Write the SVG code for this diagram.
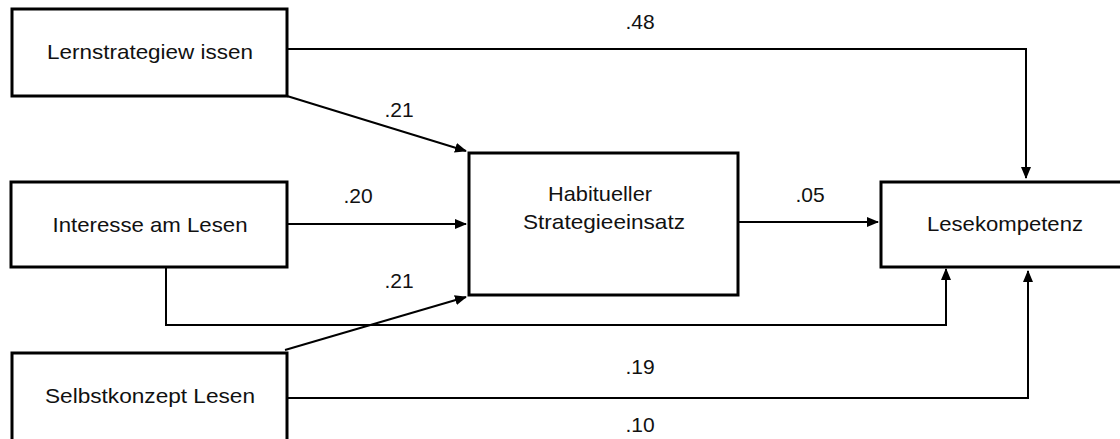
<svg xmlns="http://www.w3.org/2000/svg" width="1120" height="439" viewBox="0 0 1120 439">
<style>
.box{fill:#fff;stroke:#000;stroke-width:3}
.t{font-family:"Liberation Sans",Arial,sans-serif;font-size:21px;fill:#111;text-anchor:middle}
.c{fill:none;stroke:#000;stroke-width:2}
</style>
<defs>
<marker id="ah" markerWidth="12" markerHeight="10" refX="11" refY="5" orient="auto" markerUnits="userSpaceOnUse">
<path d="M0,0 L12,5 L0,10 Z" fill="#000"/>
</marker>
</defs>
<rect width="1120" height="439" fill="#fff"/>
<g id="n1"><rect class="box" x="12" y="9" width="275" height="87"/><text class="t" x="150" y="59" textLength="206" lengthAdjust="spacingAndGlyphs">Lernstrategiew issen</text></g>
<g id="n2"><rect class="box" x="11" y="182" width="276" height="85"/><text class="t" x="150" y="232" textLength="195" lengthAdjust="spacingAndGlyphs">Interesse am Lesen</text></g>
<g id="n3"><rect class="box" x="12" y="353" width="275" height="100"/><text class="t" x="150" y="403" textLength="210" lengthAdjust="spacingAndGlyphs">Selbstkonzept Lesen</text></g>
<g id="n4"><rect class="box" x="469" y="153" width="269" height="142"/><text class="t" x="600" y="201" textLength="104" lengthAdjust="spacingAndGlyphs">Habitueller</text><text class="t" x="604" y="229" textLength="162" lengthAdjust="spacingAndGlyphs">Strategieeinsatz</text></g>
<g id="n5"><rect class="box" x="881" y="182" width="250" height="85"/><text class="t" x="1005" y="231" textLength="156" lengthAdjust="spacingAndGlyphs">Lesekompetenz</text></g>
<g id="connectors">
<path class="c" d="M287,49 H1026 V178" marker-end="url(#ah)"/>
<path class="c" d="M287,96 L466,151" marker-end="url(#ah)"/>
<path class="c" d="M287,224 H466" marker-end="url(#ah)"/>
<path class="c" d="M285,350 L466,297" marker-end="url(#ah)"/>
<path class="c" d="M738,222 H878" marker-end="url(#ah)"/>
<path class="c" d="M166,267 V325 H946 V269" marker-end="url(#ah)"/>
<path class="c" d="M287,398 H1028 V271" marker-end="url(#ah)"/>
</g>
<g id="labels" class="t">
<text x="640" y="29">.48</text>
<text x="399" y="117">.21</text>
<text x="358" y="203">.20</text>
<text x="399" y="288">.21</text>
<text x="810" y="202">.05</text>
<text x="640" y="374">.19</text>
<text x="640" y="432">.10</text>
</g>
</svg>
